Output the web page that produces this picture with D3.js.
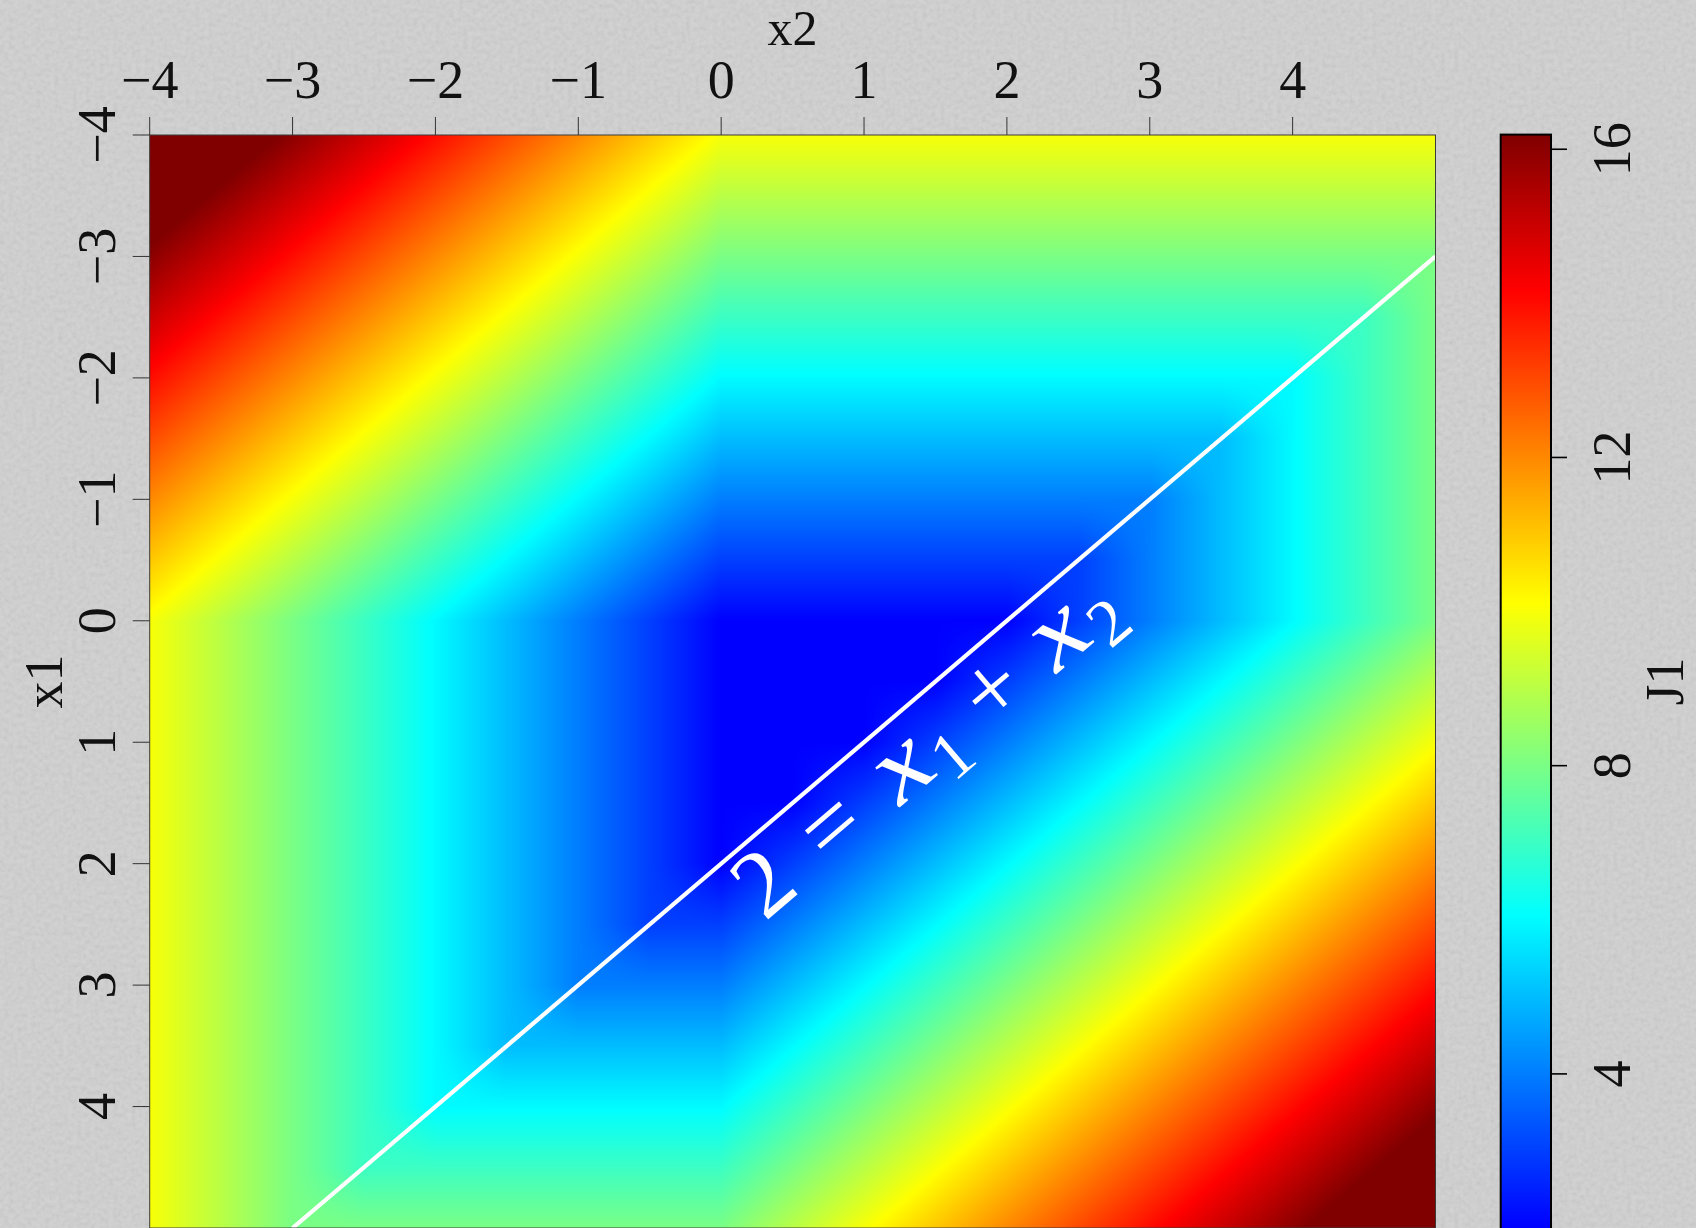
<!DOCTYPE html>
<html>
<head>
<meta charset="utf-8">
<script src="https://cdn.jsdelivr.net/npm/d3@7"></script>
<style>
  html, body { margin: 0; padding: 0; background: #c9c9c9; overflow: hidden; }
  svg { display: block; }
  text { font-family: "Liberation Serif", "Times New Roman", serif; fill: #111; }
</style>
</head>
<body>
<svg id="chart" width="1696" height="1228"></svg>
<script>
// Grid of the cost surface: columns follow x2, rows follow x1
const x2Values = [-4, -3.5, -3, -2.5, -2, -1.5, -1, -0.5, 0, 0.5, 1, 1.5, 2, 2.5, 3, 3.5, 4, 4.5, 5];
const x1Values = [-4, -3.5, -3, -2.5, -2, -1.5, -1, -0.5, 0, 0.5, 1, 1.5, 2, 2.5, 3, 3.5, 4, 4.5, 5];

// J1 on the grid, one row per x1 value
const j1Rows = [
  [18, 17, 16, 15, 14, 13, 12, 11, 10, 10, 10, 10, 10, 10, 10, 10, 10, 10, 10],
  [17, 16, 15, 14, 13, 12, 11, 10,  9,  9,  9,  9,  9,  9,  9,  9,  9,  9,  9],
  [16, 15, 14, 13, 12, 11, 10,  9,  8,  8,  8,  8,  8,  8,  8,  8,  8,  8,  8],
  [15, 14, 13, 12, 11, 10,  9,  8,  7,  7,  7,  7,  7,  7,  7,  7,  7,  7,  8],
  [14, 13, 12, 11, 10,  9,  8,  7,  6,  6,  6,  6,  6,  6,  6,  6,  6,  7,  8],
  [13, 12, 11, 10,  9,  8,  7,  6,  5,  5,  5,  5,  5,  5,  5,  5,  6,  7,  8],
  [12, 11, 10,  9,  8,  7,  6,  5,  4,  4,  4,  4,  4,  4,  4,  5,  6,  7,  8],
  [11, 10,  9,  8,  7,  6,  5,  4,  3,  3,  3,  3,  3,  3,  4,  5,  6,  7,  8],
  [10,  9,  8,  7,  6,  5,  4,  3,  2,  2,  2,  2,  2,  3,  4,  5,  6,  7,  8],
  [10,  9,  8,  7,  6,  5,  4,  3,  2,  2,  2,  2,  3,  4,  5,  6,  7,  8,  9],
  [10,  9,  8,  7,  6,  5,  4,  3,  2,  2,  2,  3,  4,  5,  6,  7,  8,  9, 10],
  [10,  9,  8,  7,  6,  5,  4,  3,  2,  2,  3,  4,  5,  6,  7,  8,  9, 10, 11],
  [10,  9,  8,  7,  6,  5,  4,  3,  2,  3,  4,  5,  6,  7,  8,  9, 10, 11, 12],
  [10,  9,  8,  7,  6,  5,  4,  3,  3,  4,  5,  6,  7,  8,  9, 10, 11, 12, 13],
  [10,  9,  8,  7,  6,  5,  4,  4,  4,  5,  6,  7,  8,  9, 10, 11, 12, 13, 14],
  [10,  9,  8,  7,  6,  5,  5,  5,  5,  6,  7,  8,  9, 10, 11, 12, 13, 14, 15],
  [10,  9,  8,  7,  6,  6,  6,  6,  6,  7,  8,  9, 10, 11, 12, 13, 14, 15, 16],
  [10,  9,  8,  7,  7,  7,  7,  7,  7,  8,  9, 10, 11, 12, 13, 14, 15, 16, 17],
  [10,  9,  8,  8,  8,  8,  8,  8,  8,  9, 10, 11, 12, 13, 14, 15, 16, 17, 18]
];

const x2Ticks = [-4, -3, -2, -1, 0, 1, 2, 3, 4];
const x1Ticks = [-4, -3, -2, -1, 0, 1, 2, 3, 4];
const j1Ticks = [4, 8, 12, 16];
const j1Range = [2.0, 16.19];

// constraint x1 + x2 = 2, given by two of its points
const constraintLine = [{ x1: -3, x2: 5 }, { x1: 5, x2: -3 }];

// jet-style palette breakpoints
const paletteStops = [2.0, 6.06, 10.11, 14.17, 16.19];
const paletteColors = ["#0000ff", "#00ffff", "#ffff00", "#ff0000", "#800000"];

// ---------------------------------------------------------------------------
const W = 1696, H = 1228;
const plot = { left: 149.7, right: 1435.5, top: 135, bottom: 1228 };
const bar = { left: 1500.7, right: 1551, top: 134.6, bottom: 1228 };

const svg = d3.select("#chart");
const defs = svg.append("defs");

// paper grain behind the figure
const grain = defs.append("filter").attr("id", "grain")
  .attr("x", 0).attr("y", 0).attr("width", "100%").attr("height", "100%");
grain.append("feTurbulence").attr("type", "fractalNoise")
  .attr("baseFrequency", 0.22).attr("numOctaves", 2).attr("seed", 11);
grain.append("feColorMatrix").attr("type", "matrix")
  .attr("values", "1 0 0 0 0  1 0 0 0 0  1 0 0 0 0  0 0 0 0 0.1");

svg.append("rect").attr("width", W).attr("height", H).attr("fill", "#d0d0d0");
svg.append("rect").attr("width", W).attr("height", H).attr("filter", "url(#grain)");

const xS = d3.scaleLinear().domain([x2Values[0], x2Values[x2Values.length - 1]])
  .range([plot.left, plot.right]);
const yS = d3.scaleLinear().domain([x1Values[0], x1Values[x1Values.length - 1]])
  .range([plot.top, plot.bottom]);

const color = d3.scaleLinear().domain(paletteStops).range(paletteColors)
  .interpolate(d3.interpolateRgb).clamp(true);

// ---- heat map: bilinear shading between grid samples ----
const pw = Math.round(plot.right - plot.left);
const ph = Math.round(plot.bottom - plot.top);
const canvas = document.createElement("canvas");
canvas.width = pw; canvas.height = ph;
const ctx = canvas.getContext("2d");
const img = ctx.createImageData(pw, ph);

const lutN = 2048;
const lut = new Uint8Array(lutN * 3);
for (let k = 0; k < lutN; k++) {
  const v = j1Range[0] + (j1Range[1] - j1Range[0]) * k / (lutN - 1);
  const c = d3.rgb(color(v));
  lut[k * 3] = c.r; lut[k * 3 + 1] = c.g; lut[k * 3 + 2] = c.b;
}
const dx2 = x2Values[1] - x2Values[0];
const dx1 = x1Values[1] - x1Values[0];
const nC = x2Values.length, nR = x1Values.length;

function sample(a, b) {
  // a = x1 (row), b = x2 (column)
  let fr = (a - x1Values[0]) / dx1, fc = (b - x2Values[0]) / dx2;
  fr = Math.max(0, Math.min(nR - 1.000001, fr));
  fc = Math.max(0, Math.min(nC - 1.000001, fc));
  const r = Math.floor(fr), c = Math.floor(fc);
  const tr = fr - r, tc = fc - c;
  const v00 = j1Rows[r][c], v01 = j1Rows[r][c + 1];
  const v10 = j1Rows[r + 1][c], v11 = j1Rows[r + 1][c + 1];
  return (v00 * (1 - tc) + v01 * tc) * (1 - tr) + (v10 * (1 - tc) + v11 * tc) * tr;
}

for (let j = 0; j < ph; j++) {
  const a = yS.invert(plot.top + j + 0.5);
  for (let i = 0; i < pw; i++) {
    const b = xS.invert(plot.left + i + 0.5);
    const v = sample(a, b);
    let k = Math.round((v - j1Range[0]) / (j1Range[1] - j1Range[0]) * (lutN - 1));
    k = Math.max(0, Math.min(lutN - 1, k));
    const p = (j * pw + i) * 4;
    img.data[p] = lut[k * 3];
    img.data[p + 1] = lut[k * 3 + 1];
    img.data[p + 2] = lut[k * 3 + 2];
    img.data[p + 3] = 255;
  }
}
ctx.putImageData(img, 0, 0);

svg.append("image")
  .attr("x", plot.left).attr("y", plot.top)
  .attr("width", plot.right - plot.left).attr("height", ph)
  .attr("preserveAspectRatio", "none")
  .attr("href", canvas.toDataURL());

// ---- constraint line ----
defs.append("clipPath").attr("id", "plotClip").append("rect")
  .attr("x", plot.left).attr("y", plot.top)
  .attr("width", plot.right - plot.left).attr("height", plot.bottom - plot.top);

svg.append("path")
  .datum(constraintLine)
  .attr("clip-path", "url(#plotClip)")
  .attr("d", d3.line().x(d => xS(d.x2)).y(d => yS(d.x1)))
  .attr("fill", "none").attr("stroke", "#ffffff").attr("stroke-width", 4.2);

// frame
svg.append("rect")
  .attr("x", plot.left).attr("y", plot.top)
  .attr("width", plot.right - plot.left).attr("height", plot.bottom - plot.top)
  .attr("fill", "none").attr("stroke", "#3c3c3c").attr("stroke-width", 1);

// ---- constraint label, set along the line ----
const p0 = constraintLine[1], p1 = constraintLine[0];
const ang = Math.atan2(yS(p1.x1) - yS(p0.x1), xS(p1.x2) - xS(p0.x2)) * 180 / Math.PI;
const fs = 96;
const lab = svg.append("g")
  .attr("transform", `translate(765,922) rotate(${ang})`)
  .style("font-size", fs + "px");
const pieces = [
  { t: "2", at: 0.0, it: false, sub: false },
  { t: "=", at: 0.885, it: false, sub: false },
  { t: "x", at: 1.85, it: true, sub: false },
  { t: "1", at: 2.44, it: false, sub: true },
  { t: "+", at: 3.085, it: false, sub: false },
  { t: "x", at: 3.99, it: true, sub: false },
  { t: "2", at: 4.58, it: false, sub: true }
];
lab.selectAll("text").data(pieces).join("text")
  .attr("transform", d => `translate(${d.at * fs},${d.sub ? 0.17 * fs : 0})` + (d.it ? " scale(1.25,1.05)" : ""))
  .style("font-size", d => d.sub ? (0.7 * fs) + "px" : fs + "px")
  .style("font-style", d => d.it ? "italic" : "normal")
  .style("fill", "#ffffff")
  .text(d => d.t);

// ---- axes ----
const fmt = d3.format("d");
const topAxis = svg.append("g");
topAxis.selectAll("line").data(x2Ticks).join("line")
  .attr("x1", d => xS(d)).attr("x2", d => xS(d))
  .attr("y1", plot.top - 18).attr("y2", plot.top)
  .attr("stroke", "#333").attr("stroke-width", 1);
topAxis.selectAll("text").data(x2Ticks).join("text")
  .attr("x", d => xS(d)).attr("y", 98)
  .attr("text-anchor", "middle").style("font-size", "54px")
  .text(d => fmt(d));

const leftAxis = svg.append("g");
leftAxis.selectAll("line").data(x1Ticks).join("line")
  .attr("x1", plot.left - 17).attr("x2", plot.left)
  .attr("y1", d => yS(d)).attr("y2", d => yS(d))
  .attr("stroke", "#333").attr("stroke-width", 1);
leftAxis.selectAll("text").data(x1Ticks).join("text")
  .attr("transform", d => `translate(115,${yS(d)}) rotate(-90)`)
  .attr("text-anchor", "middle").style("font-size", "54px")
  .text(d => fmt(d));

svg.append("text").attr("x", (plot.left + plot.right) / 2).attr("y", 45)
  .attr("text-anchor", "middle").style("font-size", "50px").text("x2");
svg.append("text")
  .attr("transform", `translate(62,${(plot.top + plot.bottom) / 2}) rotate(-90)`)
  .attr("text-anchor", "middle").style("font-size", "54px").text("x1");

// ---- colour bar ----
const cy = d3.scaleLinear().domain(j1Range).range([bar.bottom, bar.top]);
const grad = defs.append("linearGradient").attr("id", "barGrad")
  .attr("gradientUnits", "userSpaceOnUse")
  .attr("x1", 0).attr("x2", 0).attr("y1", bar.bottom).attr("y2", bar.top);
grad.selectAll("stop").data(paletteStops).join("stop")
  .attr("offset", d => (d - j1Range[0]) / (j1Range[1] - j1Range[0]))
  .attr("stop-color", d => color(d));

svg.append("rect")
  .attr("x", bar.left).attr("y", bar.top)
  .attr("width", bar.right - bar.left).attr("height", bar.bottom - bar.top + 4)
  .attr("fill", "url(#barGrad)").attr("stroke", "#000").attr("stroke-width", 2);

const cb = svg.append("g");
cb.selectAll("line").data(j1Ticks).join("line")
  .attr("x1", bar.right).attr("x2", bar.right + 16)
  .attr("y1", d => cy(d)).attr("y2", d => cy(d))
  .attr("stroke", "#000").attr("stroke-width", 1.6);
cb.selectAll("text").data(j1Ticks).join("text")
  .attr("transform", d => `translate(1630,${cy(d)}) rotate(-90)`)
  .attr("text-anchor", "middle").style("font-size", "54px")
  .text(d => fmt(d));

svg.append("text")
  .attr("transform", `translate(1683,${(plot.top + plot.bottom) / 2}) rotate(-90)`)
  .attr("text-anchor", "middle").style("font-size", "54px").text("J1");
</script>
</body>
</html>
